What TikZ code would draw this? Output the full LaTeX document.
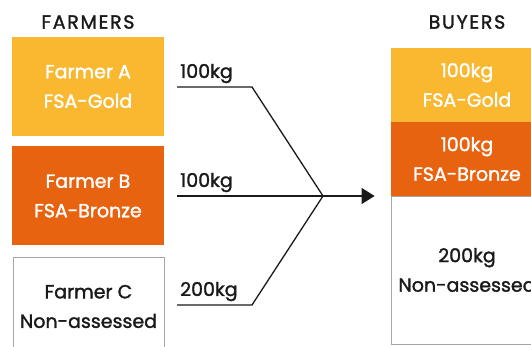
\documentclass[tikz,border=0pt]{standalone}
\usepackage{fontspec}
\setmainfont{Poppins}[FakeBold=1.5]
\newfontfamily\headfont{Poppins}[FakeBold=1.5,LetterSpace=9]
\usetikzlibrary{positioning,arrows.meta}
\definecolor{fsagold}{HTML}{F9B82F}
\definecolor{fsabronze}{HTML}{E8630F}
\definecolor{ink}{HTML}{1A1A1A}
\definecolor{edge}{HTML}{A6A6A6}
\tikzset{
  txt/.style={font=\fontsize{19}{29.5}\selectfont, text=ink},
  head/.style={font=\headfont\fontsize{19}{29}\selectfont, text=ink},
  box/.style={txt, minimum width=152pt, minimum height=99pt, inner sep=0pt, align=center},
  gold/.style={fill=fsagold, text=white},
  bronze/.style={fill=fsabronze, text=white},
  plain/.style={draw=edge, line width=0.8pt, fill=white},
  flow/.style={draw=ink, line width=1.3pt},
}

\begin{document}
\begin{tikzpicture}[x=1pt,y=-1pt]
\useasboundingbox (0,0) rectangle (531,347);
\clip (0,0) rectangle (531,347);
% farmers
\node[head] (farmers) at (88,22) {FARMERS};
\node[box,gold] (fa) at (88,86.5) {Farmer A\\FSA-Gold};
\node[box,bronze] (fb) at (88,196) {Farmer B\\FSA-Bronze};
\node[box,plain,minimum width=151pt] (fc) at (88.5,306.5) {Farmer C\\Non-assessed};
% amounts
\foreach \n/\y/\kg in {a/87/100kg,b/196/100kg,c/305/200kg} {
  \node[txt,anchor=base west,inner sep=0pt] (l\n) at (180,\y-9) {\kg};
  \coordinate (k\n) at (177,\y);
}
\coordinate (ba) at (252,87);
\coordinate (bc) at (252,305);
\coordinate (j) at (323,196);
\draw[flow] (ka) -- (ba) -- (j);
\draw[flow] (kb) -- (j);
\draw[flow] (kc) -- (bc) -- (j);
% buyers
\node[head] (buyers) at (467,22) {BUYERS};
\node[box,plain,minimum height=148pt] (gn) at (467,270) {200kg\\Non-assessed};
\node[box,gold,minimum height=74pt] (ga) at (467,85) {100kg\\FSA-Gold};
\node[box,bronze,minimum height=74pt] (gb) at (467,159) {100kg\\FSA-Bronze};
\draw[flow,-{Triangle[length=13pt,width=16pt]},shorten >=16pt] (j) -- (gn.west |- j);
\end{tikzpicture}
\end{document}
